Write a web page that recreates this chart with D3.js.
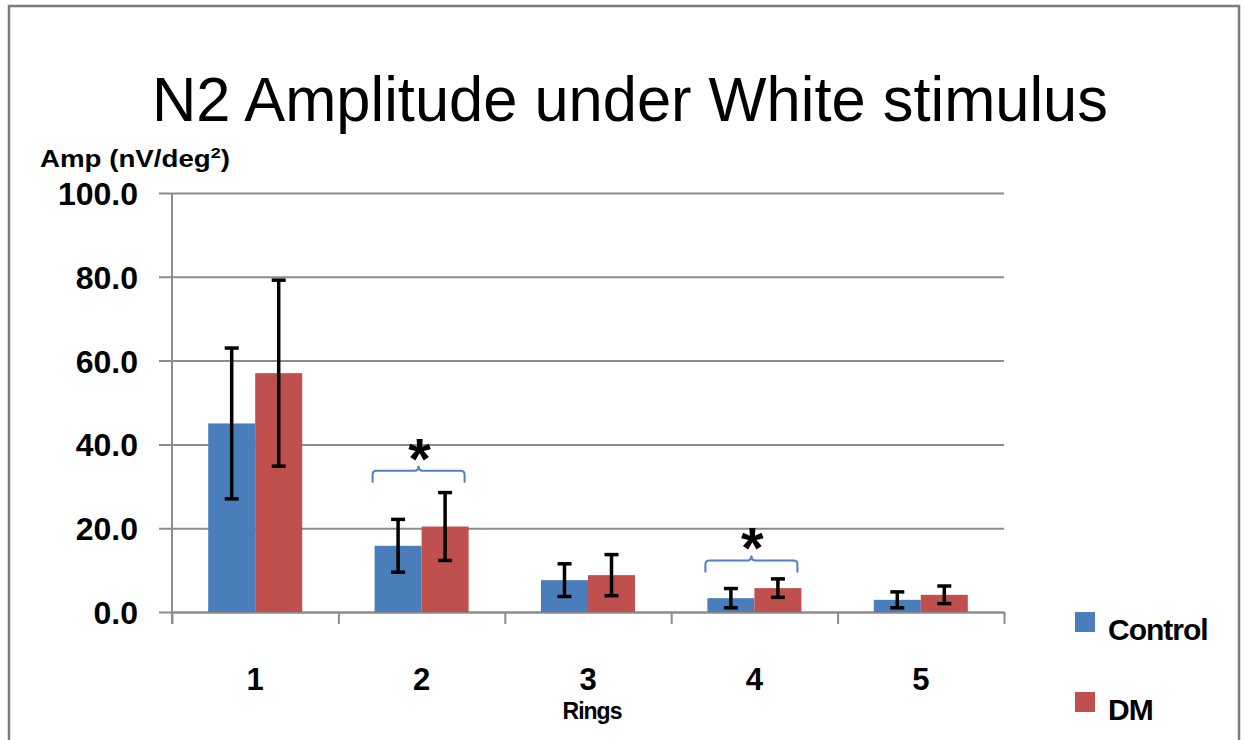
<!DOCTYPE html>
<html>
<head>
<meta charset="utf-8">
<script src="https://cdn.jsdelivr.net/npm/d3@7"></script>
<style>
  body { margin: 0; background: #fff; }
  text { font-family: Arial, "Liberation Sans", sans-serif; }
</style>
</head>
<body>
<div id="chart"></div>
<script>
const rings = ['1', '2', '3', '4', '5'];
const seriesNames = ['Control', 'DM'];
const controlValues = [45.0, 15.8, 7.6, 3.3, 2.9];
const controlErrors = [18.0, 6.3, 3.9, 2.3, 1.9];
const dmValues = [57.0, 20.4, 8.8, 5.7, 4.1];
const dmErrors = [22.2, 8.1, 4.9, 2.2, 2.1];
const yTicks = [0, 20, 40, 60, 80, 100];
const sigRings = ['2', '4'];
const sigLevels = [33.7, 12.3];

const width = 1244;
const height = 740;
const colors = { Control: '#4a7ebb', DM: '#c0504d' };

const svg = d3.select('#chart')
              .append('svg')
              .attr('width', width)
              .attr('height', height);

// outer frame
svg.append('path')
   .attr('d', 'M9,742 V6 H1239 V742')
   .attr('fill', 'none')
   .attr('stroke', '#7a7a7a')
   .attr('stroke-width', 2.5);

const plotLeft = 172, plotRight = 1004, plotTop = 193, plotBottom = 612;

const yScale = d3.scaleLinear()
                 .domain([0, 100])
                 .range([plotBottom, plotTop]);

const x0 = d3.scaleBand()
             .domain(rings)
             .range([plotLeft, plotRight])
             .paddingInner(0.435)
             .paddingOuter(0.2175);

const x1 = d3.scaleBand()
             .domain(seriesNames)
             .range([0, x0.bandwidth()]);

const xEdges = d3.scaleLinear()
                 .domain([0, rings.length])
                 .range([plotLeft, plotRight]);

// gridlines + y ticks
const yAxis = d3.axisLeft(yScale)
                .tickValues(yTicks)
                .tickSize(-(plotRight - plotLeft))
                .tickFormat(d3.format('.1f'));

const yg = svg.append('g')
              .attr('transform', 'translate(' + plotLeft + ',0)')
              .call(yAxis);
yg.select('.domain').remove();
yg.selectAll('.tick line')
  .attr('x1', -13)
  .attr('stroke', '#8c8c8c')
  .attr('stroke-width', 2);
yg.selectAll('.tick text')
  .attr('x', -34)
  .attr('dy', '0.36em')
  .attr('fill', '#000')
  .style('font-size', '32px')
  .style('font-weight', 'bold')
  .style('font-family', 'Arial, "Liberation Sans", sans-serif');

// y axis line
svg.append('line')
   .attr('x1', plotLeft).attr('x2', plotLeft)
   .attr('y1', plotTop).attr('y2', plotBottom + 12)
   .attr('stroke', '#8c8c8c')
   .attr('stroke-width', 2);

// x axis with category boundary ticks
const xg = svg.append('g')
              .attr('transform', 'translate(0,' + plotBottom + ')')
              .call(d3.axisBottom(xEdges)
                      .tickValues(d3.range(rings.length + 1))
                      .tickSize(12)
                      .tickSizeOuter(0)
                      .tickFormat(''));
xg.select('.domain').attr('stroke', '#8c8c8c').attr('stroke-width', 2);
xg.selectAll('.tick line').attr('stroke', '#8c8c8c').attr('stroke-width', 2);

// category labels
svg.append('g')
   .selectAll('text')
   .data(rings)
   .join('text')
   .attr('x', d => x0(d) + x0.bandwidth() / 2)
   .attr('y', 690)
   .attr('text-anchor', 'middle')
   .style('font-size', '31px')
   .style('font-weight', 'bold')
   .text(d => d);

// bars
const rows = rings.map((r, i) => ({
  ring: r,
  items: [
    { name: 'Control', value: controlValues[i], err: controlErrors[i] },
    { name: 'DM', value: dmValues[i], err: dmErrors[i] }
  ]
}));

const groups = svg.append('g')
                  .selectAll('g')
                  .data(rows)
                  .join('g')
                  .attr('transform', d => 'translate(' + x0(d.ring) + ',0)');

groups.selectAll('rect')
      .data(d => d.items)
      .join('rect')
      .attr('x', d => x1(d.name))
      .attr('y', d => yScale(d.value))
      .attr('width', x1.bandwidth())
      .attr('height', d => plotBottom - yScale(d.value))
      .attr('fill', d => colors[d.name]);

// error bars
const cap = 7;
const eb = groups.selectAll('g.err')
                 .data(d => d.items)
                 .join('g')
                 .attr('class', 'err')
                 .attr('stroke', '#000')
                 .attr('stroke-width', 3.5);
eb.append('line')
  .attr('x1', d => x1(d.name) + x1.bandwidth() / 2)
  .attr('x2', d => x1(d.name) + x1.bandwidth() / 2)
  .attr('y1', d => yScale(d.value + d.err))
  .attr('y2', d => yScale(d.value - d.err));
eb.append('line')
  .attr('x1', d => x1(d.name) + x1.bandwidth() / 2 - cap)
  .attr('x2', d => x1(d.name) + x1.bandwidth() / 2 + cap)
  .attr('y1', d => yScale(d.value + d.err))
  .attr('y2', d => yScale(d.value + d.err));
eb.append('line')
  .attr('x1', d => x1(d.name) + x1.bandwidth() / 2 - cap)
  .attr('x2', d => x1(d.name) + x1.bandwidth() / 2 + cap)
  .attr('y1', d => yScale(d.value - d.err))
  .attr('y2', d => yScale(d.value - d.err));

// significance brackets
sigRings.forEach((r, i) => {
  const xa = x0(r) - 2;
  const xb = x0(r) + x0.bandwidth() - 4;
  const xm = (xa + xb) / 2;
  const yb = yScale(sigLevels[i]);
  const path = d3.path();
  path.moveTo(xa, yb + 12);
  path.lineTo(xa, yb + 4);
  path.quadraticCurveTo(xa, yb, xa + 4, yb);
  path.lineTo(xm - 4, yb);
  path.quadraticCurveTo(xm, yb, xm, yb - 5);
  path.quadraticCurveTo(xm, yb, xm + 4, yb);
  path.lineTo(xb - 4, yb);
  path.quadraticCurveTo(xb, yb, xb, yb + 4);
  path.lineTo(xb, yb + 12);
  svg.append('path')
     .attr('d', path.toString())
     .attr('fill', 'none')
     .attr('stroke', '#4f81c4')
     .attr('stroke-width', 2);
  svg.append('text')
     .attr('x', xm + 1)
     .attr('y', yb + 8)
     .attr('text-anchor', 'middle')
     .style('font-size', '58px')
     .style('font-weight', 'bold')
     .text('*');
});

// title
svg.append('text')
   .attr('x', 630)
   .attr('y', 121)
   .attr('text-anchor', 'middle')
   .attr('textLength', 956)
   .attr('lengthAdjust', 'spacingAndGlyphs')
   .style('font-size', '63px')
   .text('N2 Amplitude under White stimulus');

// y axis label
const yl = svg.append('text')
              .attr('x', 40)
              .attr('y', 167)
              .attr('textLength', 190)
              .attr('lengthAdjust', 'spacingAndGlyphs')
              .style('font-size', '23px')
              .style('font-weight', 'bold');
yl.append('tspan').text('Amp (nV/deg');
yl.append('tspan').attr('dy', -9).style('font-size', '15px').text('2');
yl.append('tspan').attr('dy', 9).text(')');

// x axis label
svg.append('text')
   .attr('x', 592)
   .attr('y', 719)
   .attr('text-anchor', 'middle')
   .style('font-size', '23px')
   .style('font-weight', 'bold')
   .attr('letter-spacing', '-1')
   .text('Rings');

// legend
const legendY = [612, 692];
const lg = svg.append('g')
              .selectAll('g')
              .data(seriesNames)
              .join('g')
              .attr('transform', (d, i) => 'translate(1075,' + legendY[i] + ')');
lg.append('rect')
  .attr('width', 20)
  .attr('height', 20)
  .attr('fill', d => colors[d]);
lg.append('text')
  .attr('x', 33)
  .attr('y', 28)
  .style('font-size', '30px')
  .style('font-weight', 'bold')
  .attr('letter-spacing', '-1')
  .text(d => d);
</script>
</body>
</html>
